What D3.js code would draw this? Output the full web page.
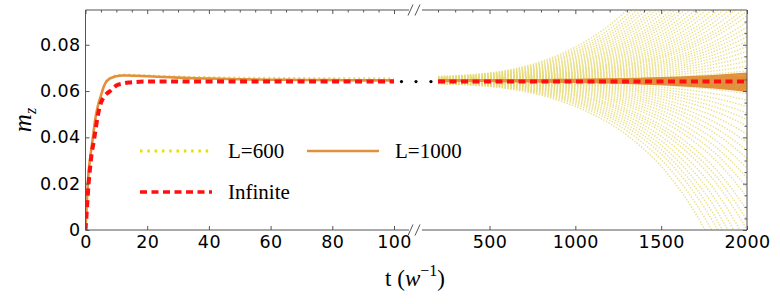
<!DOCTYPE html>
<html><head><meta charset="utf-8">
<script src="https://cdn.jsdelivr.net/npm/d3@7"></script>
<style>body{margin:0;background:#fff}</style>
</head><body><svg id="c" width="780" height="304"></svg>
<script>
// ---------- data ----------
const tLeft      = [0, 0.5, 1, 1.5, 2, 2.5, 3, 4, 5, 6, 7, 8, 9, 10, 12, 14, 16, 20, 25, 30, 40, 50, 60, 70, 80, 90, 100];
const infLeft    = [0, 0.010, 0.020, 0.027, 0.033, 0.037, 0.041, 0.0495, 0.0549, 0.0575, 0.0590, 0.0600, 0.0612, 0.0624, 0.0632, 0.0637, 0.0639, 0.0641, 0.0641, 0.0641, 0.0641, 0.0641, 0.0641, 0.0641, 0.0641, 0.0641, 0.0641];
const l1000Left  = [0, 0.014, 0.025, 0.031, 0.036, 0.041, 0.0465, 0.0535, 0.0580, 0.0622, 0.0645, 0.0655, 0.0660, 0.0664, 0.0667, 0.0667, 0.0666, 0.0664, 0.0661, 0.0658, 0.0654, 0.0651, 0.0649, 0.0648, 0.0647, 0.0646, 0.0646];
const l600Left   = [0, 0.014, 0.025, 0.031, 0.036, 0.041, 0.0465, 0.0535, 0.0581, 0.0624, 0.0648, 0.0658, 0.0664, 0.0668, 0.0671, 0.0671, 0.0670, 0.0668, 0.0665, 0.0663, 0.0660, 0.0658, 0.0657, 0.0656, 0.0655, 0.0655, 0.0655];

const tRight     = [200, 300, 400, 500, 600, 700, 800, 900, 1000, 1100, 1200, 1300, 1400, 1500, 1600, 1700, 1800, 1900, 2000];
const infRight   = [0.0641, 0.0641, 0.0641, 0.0641, 0.0641, 0.0641, 0.0641, 0.0641, 0.0641, 0.0641, 0.0641, 0.0641, 0.0641, 0.0641, 0.0641, 0.0641, 0.0641, 0.0641, 0.0641];
// deviation of the outermost L=600 trajectory from the plateau, read along its path
const spreadRight = [0.0018, 0.0021, 0.0026, 0.0033, 0.0044, 0.0060, 0.0082, 0.0110, 0.0145, 0.0188, 0.0240, 0.0305, 0.0385, 0.0480, 0.0600, 0.0745, 0.0920, 0.1140, 0.1400];
const plateau600  = 0.0645;
const plateau1000 = 0.0645;
// relative size of each trajectory's deviation (read from where each leaves the frame / its end value)
const l600Amp = [1.0, 0.93, 0.87, 0.82, 0.77, 0.72, 0.68, 0.64, 0.60, 0.56, 0.53, 0.50, 0.47, 0.44, 0.41, 0.385, 0.36, 0.335, 0.31, 0.29, 0.27, 0.25, 0.23, 0.215,
  0.20, 0.18, 0.165, 0.15, 0.135, 0.12, 0.105, 0.09, 0.075, 0.06, 0.045, 0.03, 0.015, 0.005,
  -0.01, -0.025, -0.04, -0.06, -0.08, -0.10, -0.12, -0.14, -0.165, -0.19, -0.215, -0.24, -0.27, -0.30, -0.33, -0.36, -0.40, -0.43,
  -0.46, -0.50, -0.54, -0.58, -0.62, -0.66, -0.71, -0.77];
const l1000Amp = [-0.031, -0.024, -0.017, -0.010, -0.004, 0.002, 0.008, 0.014, 0.021];

const gapDots = [0.17, 0.5, 0.84];
const gapDotValue = 0.0641;

const yTicks = [0, 0.02, 0.04, 0.06, 0.08];
const yTickLabels = ["0", "0.02", "0.04", "0.06", "0.08"];
const yMinor = [0.005,0.01,0.015,0.025,0.03,0.035,0.045,0.05,0.055,0.065,0.07,0.075,0.085,0.09];
const xLeftTicks = [0, 20, 40, 60, 80, 100];
const xLeftMinor = [5,10,15,25,30,35,45,50,55,65,70,75,85,90,95];
const xRightTicks = [500, 1000, 1500, 2000];
const xRightMinor = [200,300,400,600,700,800,900,1100,1200,1300,1400,1600,1700,1800,1900];

const legendItems = [
  {label: "L=600", kind: "l600", col: 0, row: 0},
  {label: "L=1000", kind: "l1000", col: 1, row: 0},
  {label: "Infinite", kind: "inf", col: 0, row: 1}
];

// ---------- layout ----------
const svg = d3.select("#c");
const L = 85.5, R = 747, T = 10, B = 230;
const y  = d3.scaleLinear().domain([0, 0.095]).range([B, T]);
const xL = d3.scaleLinear().domain([0, 100]).range([L, 394]);
const xR = d3.scaleLinear().domain([200, 2000]).range([438, R]);
const xG = d3.scaleLinear().domain([0, 1]).range([394, 438]);

const C_FRAME = "#555";
const C_RED = "#ff1010", C_OR = "#e2903c", C_YEL = "#e7da78", C_YEL_LEG = "#e6e000";
const SANS = '"DejaVu Sans"', SERIF = '"Liberation Serif"';

svg.append("defs").append("clipPath").attr("id","clipR")
  .append("rect").attr("x", 438).attr("y", T).attr("width", R-438).attr("height", B-T);
svg.select("defs").append("clipPath").attr("id","clipL")
  .append("rect").attr("x", L).attr("y", T).attr("width", 394-L+2).attr("height", B-T);

// ---------- right panel fans ----------
const gR = svg.append("g").attr("clip-path","url(#clipR)");
const lineR = d3.line().curve(d3.curveMonotoneX).x(d => xR(d[0])).y(d => y(d[1]));
l600Amp.forEach(a => {
  gR.append("path").attr("d", lineR(tRight.map((t,i) => [t, plateau600 + a*spreadRight[i]])))
    .attr("fill","none").attr("stroke", C_YEL).attr("stroke-width",1.4)
    .attr("stroke-dasharray","1.4,1.5").attr("opacity",0.85);
});
l1000Amp.forEach(a => {
  gR.append("path").attr("d", lineR(tRight.map((t,i) => [t, plateau1000 + a*spreadRight[i]])))
    .attr("fill","none").attr("stroke", C_OR).attr("stroke-width",2.5);
});
gR.append("path").attr("d", lineR(tRight.map((t,i)=>[t, infRight[i]])))
  .attr("fill","none").attr("stroke", C_RED).attr("stroke-width",4).attr("stroke-dasharray","7,4.5");

// ---------- left panel ----------
const gL = svg.append("g").attr("clip-path","url(#clipL)");
const lineL = d3.line().curve(d3.curveMonotoneX).x(d => xL(d[0])).y(d => y(d[1]));
gL.append("path").attr("d", lineL(tLeft.map((t,i)=>[t,l600Left[i]])))
  .attr("fill","none").attr("stroke", C_YEL).attr("stroke-width",2).attr("stroke-dasharray","2,3");
gL.append("path").attr("d", lineL(tLeft.map((t,i)=>[t,l1000Left[i]])))
  .attr("fill","none").attr("stroke", C_OR).attr("stroke-width",2.6);
gL.append("path").attr("d", lineL(tLeft.map((t,i)=>[t,infLeft[i]])))
  .attr("fill","none").attr("stroke", C_RED).attr("stroke-width",4).attr("stroke-dasharray","7,4.5");

// gap dots
svg.selectAll("circle.gap").data(gapDots).join("circle").attr("class","gap")
  .attr("cx", d => xG(d)).attr("cy", y(gapDotValue)).attr("r", 1.6).attr("fill","#000");

// ---------- frame ----------
const fr = svg.append("g").attr("stroke", C_FRAME).attr("stroke-width", 1).attr("fill","none");
fr.append("line").attr("x1",L).attr("x2",L).attr("y1",T).attr("y2",B);
fr.append("line").attr("x1",R).attr("x2",R).attr("y1",T).attr("y2",B);
[T, B].forEach(yy => {
  fr.append("line").attr("x1",L).attr("x2",409).attr("y1",yy).attr("y2",yy);
  fr.append("line").attr("x1",422).attr("x2",R).attr("y1",yy).attr("y2",yy);
  fr.append("line").attr("x1",408).attr("x2",413).attr("y1",yy+5.5).attr("y2",yy-5.5);
  fr.append("line").attr("x1",415).attr("x2",420).attr("y1",yy+5.5).attr("y2",yy-5.5);
});

function styleAxis(g) {
  g.attr("font-family", SANS).attr("font-size", 17.5);
  g.select(".domain").remove();
  g.selectAll(".tick line").attr("stroke", C_FRAME);
  g.selectAll("text").attr("fill","#000").attr("letter-spacing","0.4px");
}
// bottom
svg.append("g").attr("transform",`translate(0,${B})`)
  .call(d3.axisBottom(xL).tickValues(xLeftTicks).tickSize(-4).tickPadding(6).tickFormat(d3.format("d"))).call(styleAxis);
svg.append("g").attr("transform",`translate(0,${B})`)
  .call(d3.axisBottom(xR).tickValues(xRightTicks).tickSize(-4).tickPadding(6).tickFormat(d3.format("d"))).call(styleAxis);
// top
svg.append("g").attr("transform",`translate(0,${T})`)
  .call(d3.axisTop(xL).tickValues(xLeftTicks).tickSize(-4).tickFormat("")).call(styleAxis);
svg.append("g").attr("transform",`translate(0,${T})`)
  .call(d3.axisTop(xL).tickValues(xLeftMinor).tickSize(-2.5).tickFormat("")).call(styleAxis);
svg.append("g").attr("transform",`translate(0,${T})`)
  .call(d3.axisTop(xR).tickValues(xRightTicks).tickSize(-4).tickFormat("")).call(styleAxis);
svg.append("g").attr("transform",`translate(0,${T})`)
  .call(d3.axisTop(xR).tickValues(xRightMinor).tickSize(-2.5).tickFormat("")).call(styleAxis);
// left
svg.append("g").attr("transform",`translate(${L},0)`)
  .call(d3.axisLeft(y).tickValues(yTicks).tickSize(-4).tickPadding(5).tickFormat((d,i)=>yTickLabels[i])).call(styleAxis);
// right
svg.append("g").attr("transform",`translate(${R},0)`)
  .call(d3.axisRight(y).tickValues(yTicks).tickSize(-4).tickFormat("")).call(styleAxis);
svg.append("g").attr("transform",`translate(${R},0)`)
  .call(d3.axisRight(y).tickValues(yMinor).tickSize(-2.5).tickFormat("")).call(styleAxis);

// ---------- axis titles ----------
const yt = svg.append("text").attr("transform","translate(31,120) rotate(-90)")
  .attr("font-family", SERIF).attr("font-size", 25).attr("text-anchor","middle");
yt.append("tspan").attr("font-style","italic").text("m");
yt.append("tspan").attr("font-style","italic").attr("font-size",16).attr("dy",5).text("z");

const xt = svg.append("text").attr("x", 415).attr("y", 286).attr("text-anchor","middle")
  .attr("font-family", SERIF).attr("font-size", 23);
xt.append("tspan").text("t (");
xt.append("tspan").attr("font-style","italic").text("w");
xt.append("tspan").attr("font-size",16).attr("dy",-10).text("−1");
xt.append("tspan").attr("dy",10).text(")");

// ---------- legend ----------
const lg = svg.append("g");
const colX = [140, 307], rowY = [151, 192], lineLen = 72;
legendItems.forEach(it => {
  const x0 = colX[it.col], yy = rowY[it.row];
  const ln = lg.append("line").attr("x1", x0).attr("x2", x0+lineLen).attr("y1", yy).attr("y2", yy).attr("fill","none");
  if (it.kind === "l600") ln.attr("stroke", C_YEL_LEG).attr("stroke-width",3).attr("stroke-dasharray","2.5,4.8");
  if (it.kind === "l1000") ln.attr("stroke", C_OR).attr("stroke-width",2.6);
  if (it.kind === "inf") ln.attr("stroke", C_RED).attr("stroke-width",3.5).attr("stroke-dasharray","7,4.5");
  lg.append("text").attr("x", x0+lineLen+16).attr("y", yy+6.5)
    .attr("font-family", SERIF).attr("font-size", 21).text(it.label);
});
</script>
</body></html>
